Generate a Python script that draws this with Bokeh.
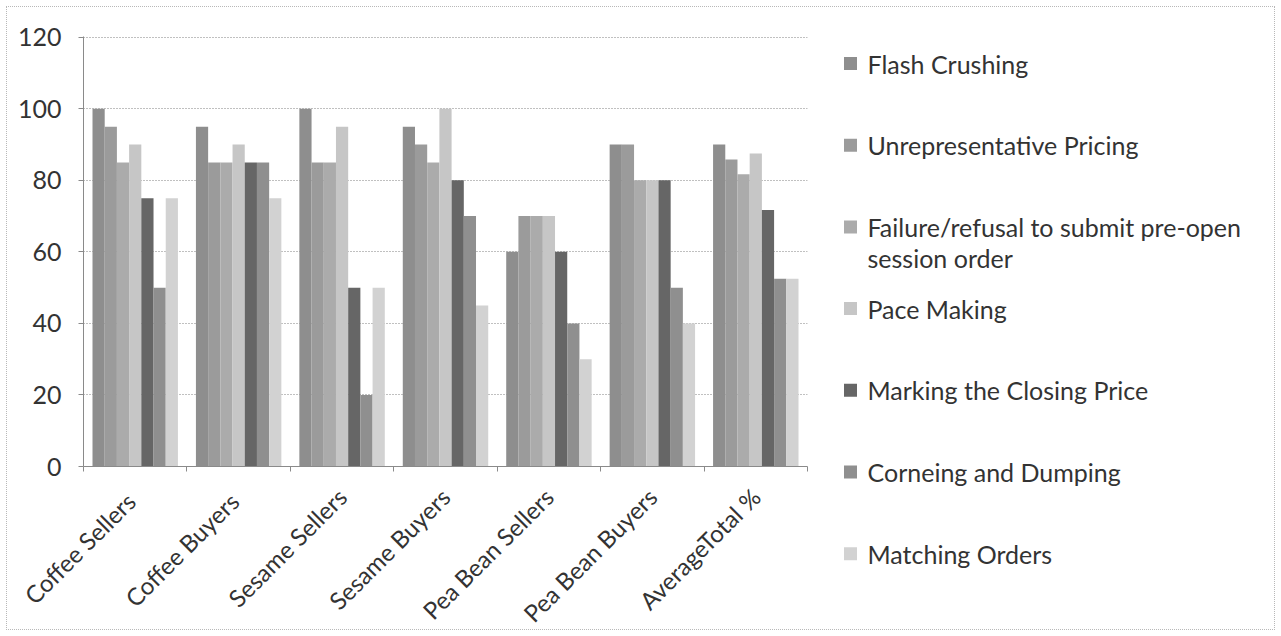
import textwrap
from math import pi
from bokeh.plotting import figure
from bokeh.models import Range1d, FixedTicker, ColumnDataSource
from bokeh.core.properties import value
from bokeh.core.templates import FILE
from bokeh.embed import file_html
from bokeh.resources import INLINE

# ---------------- data ----------------
categories = ["Coffee  Sellers", "Coffee  Buyers", "Sesame Sellers", "Sesame Buyers",
              "Pea Bean Sellers", "Pea Bean Buyers", "AverageTotal %"]
series_names = ["Flash Crushing", "Unrepresentative Pricing",
                "Failure/refusal to submit pre-open session order", "Pace Making",
                "Marking the Closing Price", "Corneing and Dumping", "Matching Orders"]
flash_crushing = [100, 95, 100, 95, 60, 90, 90]
unrepresentative_pricing = [95, 85, 85, 90, 70, 90, 85.8]
failure_refusal = [85, 85, 85, 85, 70, 80, 81.7]
pace_making = [90, 90, 95, 100, 70, 80, 87.5]
marking_closing = [75, 85, 50, 80, 60, 80, 71.7]
corneing_dumping = [50, 85, 20, 70, 40, 50, 52.5]
matching_orders = [75, 75, 50, 45, 30, 40, 52.5]
y_ticks = [0, 20, 40, 60, 80, 100, 120]

series_values = [flash_crushing, unrepresentative_pricing, failure_refusal, pace_making,
                 marking_closing, corneing_dumping, matching_orders]
colors = ["#8e8e8e", "#9b9b9b", "#ababab", "#c6c6c6", "#666666", "#8f8f8f", "#d2d2d2"]

FONT = "Lato"
TEXT_COLOR = "#333333"

# ---------------- layout (page pixels) ----------------
W, H = 1281, 636
F_LEFT, F_TOP, F_W, F_H = 83, 36, 724, 430
MAIN_W = 815

n_cat = len(categories)
n_ser = len(series_names)
bar_w = 0.118

p = figure(frame_width=F_W, frame_height=F_H, min_border_left=F_LEFT,
           min_border_right=MAIN_W - F_LEFT - F_W, min_border_top=F_TOP,
           min_border_bottom=H - F_TOP - F_H,
           x_range=Range1d(0, n_cat), y_range=Range1d(0, 120.2),
           output_backend="svg", toolbar_location=None)

for k, (name, vals, col) in enumerate(zip(series_names, series_values, colors)):
    xs = [i + 0.5 + (k - (n_ser - 1) / 2) * bar_w for i in range(n_cat)]
    src = ColumnDataSource(dict(x=xs, top=vals))
    p.vbar(x="x", top="top", bottom=0, width=bar_w, source=src,
           fill_color=col, line_color=None)

p.outline_line_color = None
p.xgrid.visible = False
p.ygrid.grid_line_color = "#808080"
p.ygrid.grid_line_dash = "1 2"
p.ygrid.grid_line_width = 1

p.yaxis.ticker = FixedTicker(ticks=y_ticks)
p.yaxis.axis_line_color = "#8a8a8a"
p.yaxis.major_tick_line_color = "#8a8a8a"
p.yaxis.major_tick_out = 5
p.yaxis.major_tick_in = 0
p.yaxis.minor_tick_line_color = None
p.yaxis.major_label_standoff = 17
p.yaxis.major_label_text_font = FONT
p.yaxis.major_label_text_font_size = "25px"
p.yaxis.major_label_text_color = TEXT_COLOR

centers = [i + 0.5 for i in range(n_cat)]
p.xaxis.ticker = FixedTicker(ticks=centers, minor_ticks=list(range(n_cat + 1)))
p.xaxis.major_label_overrides = {c: lab for c, lab in zip(centers, categories)}
p.xaxis.major_tick_line_color = None
p.xaxis.minor_tick_line_color = "#8a8a8a"
p.xaxis.minor_tick_out = 5
p.xaxis.minor_tick_in = 0
p.xaxis.axis_line_color = "#8a8a8a"
p.xaxis.major_label_orientation = pi / 4
p.xaxis.major_label_standoff = 20
p.xaxis.major_label_text_font = FONT
p.xaxis.major_label_text_font_size = "24px"
p.xaxis.major_label_text_color = TEXT_COLOR

# ---------------- legend panel (pixel coordinates) ----------------
lw = W - MAIN_W
lg = figure(width=lw, height=H, x_range=Range1d(0, lw), y_range=Range1d(H, 0),
            x_axis_type=None, y_axis_type=None, min_border=0,
            output_backend="svg", toolbar_location=None)
lg.outline_line_color = None
lg.grid.visible = False

leg_top, leg_step, line_h = 63, 81.7, 31
sq_x, tx_x = 850 - MAIN_W, 867 - MAIN_W
sq_y, tx, ty = [], [], []
for k, name in enumerate(series_names):
    yc = leg_top + k * leg_step
    sq_y.append(yc)
    for j, line in enumerate(textwrap.wrap(name, 34)):
        tx.append(line)
        ty.append(yc + j * line_h)

lg.scatter(x=[sq_x] * n_ser, y=sq_y, marker="square", size=13,
           fill_color=colors, line_color=None)
lg.text(x=[tx_x] * len(tx), y=ty, text=tx, text_font=value(FONT),
        text_font_size="25px", text_baseline="middle", text_align="left",
        text_color=TEXT_COLOR)

# page template: the two panels side by side, plus the faint outer chart border
template = FILE.environment.from_string(
    '{% extends "file.html" %}'
    '{% block postamble %}<style>'
    'body { display: flex !important; flex-direction: row; align-items: flex-start; }'
    'body::after { content: ""; position: fixed; left: 6px; top: 6px; right: 6px; '
    'bottom: 6px; border: 1px dotted #b8b8b8; pointer-events: none; }'
    '</style>{% endblock %}'
)

open("out.html", "w").write(file_html([p, lg], INLINE, template=template))
